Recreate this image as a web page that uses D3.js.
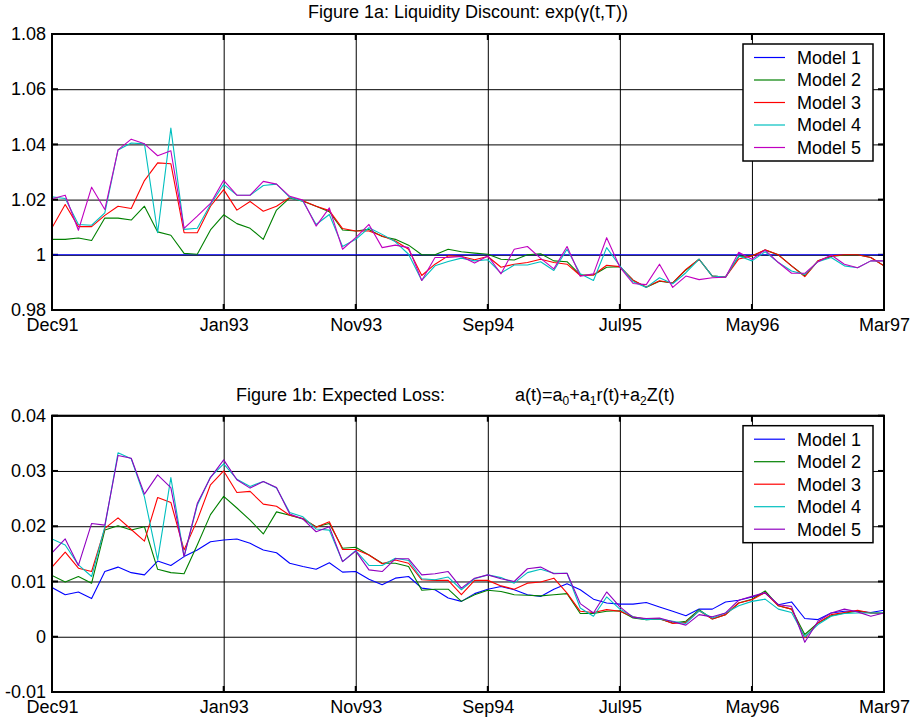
<!DOCTYPE html>
<html>
<head>
<meta charset="utf-8">
<script src="https://cdn.jsdelivr.net/npm/d3@7"></script>
<style>
  html, body { margin: 0; padding: 0; background: #fff; }
  svg { display: block; }
  text { font-family: "Liberation Sans", Arial, sans-serif; fill: #000; }
</style>
</head>
<body>
<div id="chart"></div>
<script>
// ---------- DATA ----------
const xTickMonths = [0, 13, 23, 33, 43, 53, 63];
const xTickLabels = ["Dec91", "Jan93", "Nov93", "Sep94", "Jul95", "May96", "Mar97"];

const topYTicks = [0.98, 1.00, 1.02, 1.04, 1.06, 1.08];
const topYLabels = ["0.98", "1", "1.02", "1.04", "1.06", "1.08"];
const botYTicks = [-0.01, 0, 0.01, 0.02, 0.03, 0.04];
const botYLabels = ["-0.01", "0", "0.01", "0.02", "0.03", "0.04"];

const seriesNames = ["Model 1", "Model 2", "Model 3", "Model 4", "Model 5"];

// Figure 1a: Liquidity discount (monthly, Dec91 .. Mar97)
const topM1 = [
  1,1,1,1,1,1,1,1,1,1,
  1,1,1,1,1,1,1,1,1,1,
  1,1,1,1,1,1,1,1,1,1,
  1,1,1,1,1,1,1,1,1,1,
  1,1,1,1,1,1,1,1,1,1,
  1,1,1,1,1,1,1,1,1,1,
  1,1,1,1];
const topM2 = [
  1.0056,1.0056,1.0061,1.0052,1.0133,1.0133,1.0126,1.0176,1.0083,1.0071,
  1.0005,1.0002,1.0090,1.0145,1.0113,1.0096,1.0056,1.0162,1.0206,1.0194,
  1.0176,1.0156,1.0090,1.0086,1.0092,1.0066,1.0056,1.0035,1.0000,1.0000,
  1.0020,1.0011,1.0006,1.0002,0.9984,0.9981,1.0000,1.0004,0.9978,0.9975,
  0.9927,0.9927,0.9955,0.9957,0.9908,0.9882,0.9904,0.9898,0.9945,0.9984,
  0.9923,0.9919,0.9994,0.9996,1.0017,1.0000,0.9960,0.9923,0.9978,0.9994,
  0.9999,1.0000,0.9990,0.9960];
const topM3 = [
  1.0098,1.0182,1.0102,1.0102,1.0143,1.0176,1.0168,1.0269,1.0333,1.0330,
  1.0080,1.0080,1.0176,1.0236,1.0162,1.0193,1.0158,1.0176,1.0208,1.0196,
  1.0176,1.0160,1.0095,1.0086,1.0086,1.0068,1.0050,1.0020,0.9925,0.9966,
  0.9996,0.9994,0.9982,0.9994,0.9955,0.9966,0.9972,0.9984,0.9972,0.9966,
  0.9925,0.9927,0.9962,0.9957,0.9908,0.9883,0.9906,0.9898,0.9947,0.9984,
  0.9923,0.9919,0.9985,0.9996,1.0018,1.0000,0.9960,0.9921,0.9978,0.9996,
  1.0000,1.0000,0.9990,0.9960];
const topM4 = [
  1.0210,1.0204,1.0110,1.0107,1.0152,1.0380,1.0405,1.0402,1.0080,1.0459,
  1.0092,1.0096,1.0182,1.0255,1.0216,1.0216,1.0251,1.0256,1.0208,1.0194,
  1.0110,1.0146,1.0030,1.0056,1.0098,1.0074,1.0047,1.0002,0.9907,0.9960,
  0.9976,0.9988,0.9978,0.9982,0.9934,0.9963,0.9963,0.9975,0.9943,1.0020,
  0.9931,0.9907,1.0026,0.9960,0.9902,0.9882,0.9917,0.9895,0.9935,0.9984,
  0.9923,0.9919,0.9996,0.9978,1.0011,0.9972,0.9941,0.9929,0.9975,0.9990,
  0.9960,0.9953,0.9978,0.9978];
const topM5 = [
  1.0203,1.0216,1.0089,1.0245,1.0164,1.0380,1.0419,1.0402,1.0359,1.0377,
  1.0096,1.0140,1.0186,1.0270,1.0216,1.0216,1.0266,1.0256,1.0212,1.0198,
  1.0104,1.0170,1.0020,1.0062,1.0110,1.0026,1.0035,1.0026,0.9907,0.9990,
  0.9990,0.9994,0.9970,0.9996,0.9931,1.0020,1.0030,0.9987,0.9949,1.0030,
  0.9922,0.9931,1.0062,0.9955,0.9896,0.9892,0.9966,0.9882,0.9923,0.9910,
  0.9917,0.9919,1.0009,0.9984,1.0017,0.9972,0.9933,0.9933,0.9975,0.9999,
  0.9966,0.9953,0.9978,0.9978];

// Figure 1b: Expected loss
const botM1 = [
  0.0089,0.0076,0.0081,0.0069,0.0118,0.0126,0.0116,0.0112,0.0137,0.0129,
  0.0145,0.0157,0.0172,0.0175,0.0177,0.0169,0.0157,0.0152,0.0133,0.0127,
  0.0122,0.0134,0.0117,0.0118,0.0104,0.0094,0.0106,0.0109,0.0088,0.0085,
  0.0070,0.0064,0.0078,0.0086,0.0091,0.0085,0.0076,0.0073,0.0086,0.0096,
  0.0085,0.0068,0.0061,0.0059,0.0059,0.0062,0.0054,0.0046,0.0038,0.0050,
  0.0050,0.0063,0.0066,0.0072,0.0079,0.0058,0.0063,0.0033,0.0031,0.0043,
  0.0046,0.0046,0.0044,0.0048];
const botM2 = [
  0.0111,0.0099,0.0109,0.0097,0.0193,0.0201,0.0193,0.0199,0.0122,0.0116,
  0.0114,0.0166,0.0221,0.0254,0.0233,0.0211,0.0186,0.0226,0.0220,0.0213,
  0.0199,0.0205,0.0160,0.0162,0.0148,0.0133,0.0133,0.0127,0.0084,0.0086,
  0.0086,0.0064,0.0076,0.0084,0.0082,0.0076,0.0075,0.0074,0.0076,0.0078,
  0.0042,0.0042,0.0046,0.0047,0.0034,0.0031,0.0032,0.0025,0.0028,0.0049,
  0.0032,0.0040,0.0061,0.0068,0.0083,0.0056,0.0050,0.0004,0.0025,0.0038,
  0.0043,0.0046,0.0043,0.0043];
const botM3 = [
  0.0126,0.0153,0.0124,0.0118,0.0196,0.0215,0.0194,0.0173,0.0252,0.0243,
  0.0157,0.0211,0.0275,0.0300,0.0261,0.0263,0.0240,0.0236,0.0220,0.0214,
  0.0198,0.0208,0.0158,0.0158,0.0148,0.0132,0.0139,0.0133,0.0103,0.0102,
  0.0102,0.0076,0.0102,0.0102,0.0092,0.0086,0.0097,0.0099,0.0106,0.0079,
  0.0046,0.0044,0.0049,0.0046,0.0036,0.0032,0.0033,0.0024,0.0026,0.0047,
  0.0032,0.0040,0.0061,0.0067,0.0080,0.0056,0.0050,-0.0002,0.0025,0.0040,
  0.0044,0.0048,0.0043,0.0042];
const botM4 = [
  0.0177,0.0166,0.0130,0.0109,0.0199,0.0333,0.0322,0.0253,0.0139,0.0288,
  0.0145,0.0238,0.0289,0.0313,0.0285,0.0272,0.0281,0.0269,0.0225,0.0217,
  0.0195,0.0193,0.0136,0.0156,0.0129,0.0129,0.0142,0.0138,0.0105,0.0103,
  0.0108,0.0085,0.0105,0.0112,0.0107,0.0097,0.0116,0.0122,0.0115,0.0115,
  0.0052,0.0037,0.0072,0.0050,0.0036,0.0031,0.0032,0.0028,0.0024,0.0047,
  0.0034,0.0043,0.0056,0.0064,0.0068,0.0050,0.0044,0.0000,0.0022,0.0037,
  0.0042,0.0043,0.0043,0.0043];
const botM5 = [
  0.0152,0.0177,0.0129,0.0205,0.0202,0.0328,0.0323,0.0258,0.0293,0.0270,
  0.0145,0.0241,0.0288,0.0320,0.0284,0.0269,0.0281,0.0270,0.0222,0.0213,
  0.0190,0.0199,0.0136,0.0155,0.0121,0.0118,0.0141,0.0141,0.0112,0.0114,
  0.0118,0.0088,0.0106,0.0112,0.0105,0.0100,0.0123,0.0126,0.0114,0.0115,
  0.0060,0.0043,0.0081,0.0054,0.0035,0.0033,0.0034,0.0027,0.0021,0.0040,
  0.0036,0.0043,0.0066,0.0073,0.0080,0.0058,0.0055,-0.0010,0.0028,0.0043,
  0.0050,0.0045,0.0037,0.0043];

const topColors = ["#0000ff", "#008000", "#ff0000", "#00bfbf", "#c000c0"];
const botColors = ["#0000ff", "#008000", "#ff0000", "#00bfbf", "#9000c0"];

// ---------- DRAW ----------
const W = 914, H = 723;
const FS = 18;
const svg = d3.select("#chart").append("svg").attr("width", W).attr("height", H);

const x = d3.scaleLinear().domain([0, 63]).range([52, 884]);

function panel(opts) {
  const { top, bottom, yTicks, yLabels, series, colors } = opts;
  const y = d3.scaleLinear().domain([yTicks[0], yTicks[yTicks.length - 1]]).range([bottom, top]);
  const g = svg.append("g");
  const left = x.range()[0], right = x.range()[1];

  // white plot background
  g.append("rect").attr("x", left).attr("y", top).attr("width", right - left).attr("height", bottom - top).attr("fill", "#fff");

  // horizontal gridlines
  const gy = g.append("g").attr("transform", `translate(${left},0)`)
    .call(d3.axisLeft(y).tickValues(yTicks).tickSize(-(right - left)).tickFormat(""));
  gy.select(".domain").remove();
  gy.selectAll("line").attr("stroke", "#000").attr("stroke-width", 1);

  // vertical gridlines
  const gx = g.append("g").attr("transform", `translate(0,${bottom})`)
    .call(d3.axisBottom(x).tickValues(xTickMonths).tickSize(-(bottom - top)).tickFormat(""));
  gx.select(".domain").remove();
  gx.selectAll("line").attr("stroke", "#000").attr("stroke-width", 1);

  // inner tick marks (left/right/bottom/top)
  const tl = 6;
  const tk = g.append("g").attr("stroke", "#000").attr("stroke-width", 2);
  yTicks.forEach(v => {
    tk.append("line").attr("x1", left).attr("x2", left + tl).attr("y1", y(v)).attr("y2", y(v));
    tk.append("line").attr("x1", right - tl).attr("x2", right).attr("y1", y(v)).attr("y2", y(v));
  });
  xTickMonths.forEach(m => {
    tk.append("line").attr("x1", x(m)).attr("x2", x(m)).attr("y1", bottom).attr("y2", bottom - tl);
    tk.append("line").attr("x1", x(m)).attr("x2", x(m)).attr("y1", top).attr("y2", top + tl);
  });

  // y tick labels
  const ly = g.append("g").attr("transform", `translate(${left},0)`)
    .call(d3.axisLeft(y).tickValues(yTicks).tickSize(0).tickPadding(6)
      .tickFormat((d, i) => yLabels[i]));
  ly.select(".domain").remove();
  ly.selectAll("text").attr("font-size", FS).attr("font-family", "Liberation Sans, Arial, sans-serif").attr("fill", "#000");

  // x tick labels
  const lx = g.append("g").attr("transform", `translate(0,${bottom})`)
    .call(d3.axisBottom(x).tickValues(xTickMonths).tickSize(0).tickPadding(8)
      .tickFormat((d, i) => xTickLabels[i]));
  lx.select(".domain").remove();
  lx.selectAll("text").attr("font-size", FS).attr("font-family", "Liberation Sans, Arial, sans-serif").attr("fill", "#000");

  // series lines
  const line = d3.line().x((d, i) => x(i)).y(d => y(d));
  const clipId = "clip" + Math.round(top);
  svg.append("clipPath").attr("id", clipId).append("rect")
    .attr("x", left).attr("y", top).attr("width", right - left).attr("height", bottom - top);
  g.append("g").attr("clip-path", `url(#${clipId})`)
    .selectAll("path").data(series).join("path")
    .attr("d", d => line(d))
    .attr("fill", "none")
    .attr("stroke", (d, i) => colors[i])
    .attr("stroke-width", 1.1)
    .attr("stroke-linejoin", "round");

  // frame
  g.append("rect").attr("x", left).attr("y", top).attr("width", right - left).attr("height", bottom - top)
    .attr("fill", "none").attr("stroke", "#000").attr("stroke-width", 2);

  // legend
  const lgX = 743, lgY = top + 10, lgW = 130, lgH = 117;
  const lg = g.append("g");
  lg.append("rect").attr("x", lgX).attr("y", lgY).attr("width", lgW).attr("height", lgH)
    .attr("fill", "#fff").attr("stroke", "#000").attr("stroke-width", 1.5);
  seriesNames.forEach((name, i) => {
    const ry = lgY + 13.5 + i * 22.5;
    lg.append("line").attr("x1", lgX + 11).attr("x2", lgX + 42).attr("y1", ry).attr("y2", ry)
      .attr("stroke", colors[i]).attr("stroke-width", 1.2);
    lg.append("text").attr("x", lgX + 54).attr("y", ry).attr("dy", "0.35em")
      .attr("font-size", FS).text(name);
  });
  return y;
}

panel({ top: 34, bottom: 310, yTicks: topYTicks, yLabels: topYLabels,
        series: [topM1, topM2, topM3, topM4, topM5], colors: topColors });
panel({ top: 415.7, bottom: 692, yTicks: botYTicks, yLabels: botYLabels,
        series: [botM1, botM2, botM3, botM4, botM5], colors: botColors });

// titles
svg.append("text").attr("x", 468).attr("y", 17.5).attr("text-anchor", "middle")
  .attr("font-size", FS).text("Figure 1a: Liquidity Discount: exp(γ(t,T))");

svg.append("text").attr("x", 236).attr("y", 401).attr("font-size", FS)
  .text("Figure 1b: Expected Loss:");
const f = svg.append("text").attr("x", 515).attr("y", 401).attr("font-size", FS);
f.append("tspan").text("a(t)=a");
f.append("tspan").attr("dy", 4).attr("font-size", 12).text("0");
f.append("tspan").attr("dy", -4).text("+a");
f.append("tspan").attr("dy", 4).attr("font-size", 12).text("1");
f.append("tspan").attr("dy", -4).text("r(t)+a");
f.append("tspan").attr("dy", 4).attr("font-size", 12).text("2");
f.append("tspan").attr("dy", -4).text("Z(t)");
</script>
</body>
</html>
